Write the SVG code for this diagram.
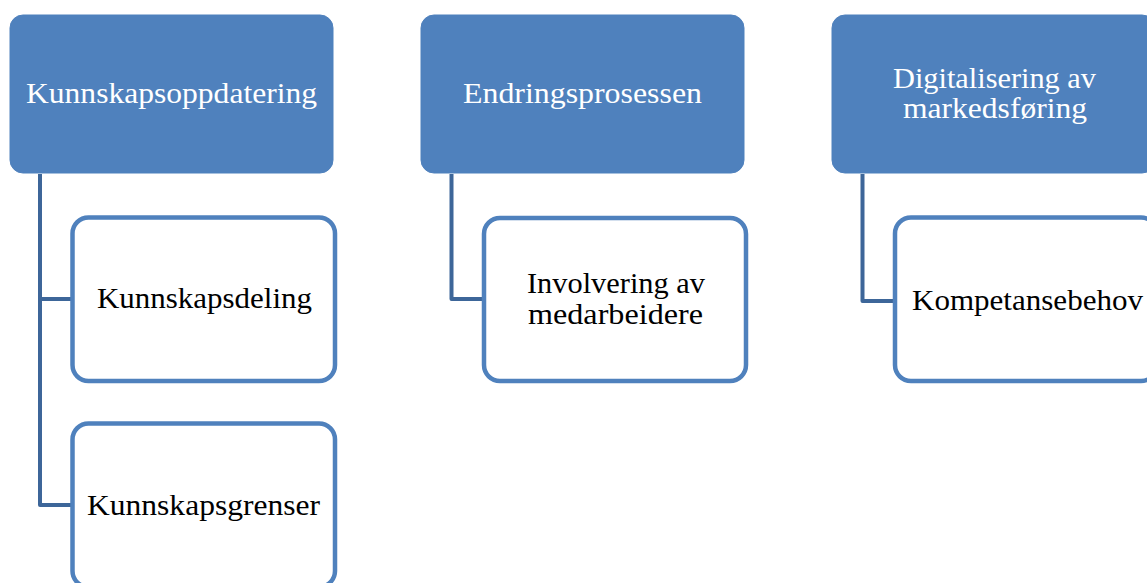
<svg xmlns="http://www.w3.org/2000/svg" width="1147" height="583" viewBox="0 0 1147 583">
<style>
.top{fill:#4F81BD;stroke:#4F81BD;stroke-width:1}
.child{fill:#FFFFFF;stroke:#4F81BD;stroke-width:4.5}
.conn{fill:none;stroke:#3D6699;stroke-width:4;stroke-linejoin:round}
.tw{font-family:"Liberation Serif","DejaVu Serif",serif;font-size:29.5px;fill:#FFFFFF;text-anchor:middle}
.tb{font-family:"Liberation Serif","DejaVu Serif",serif;font-size:29.5px;fill:#000000;text-anchor:middle}
</style>
<rect width="1147" height="583" fill="#FFFFFF"/>
<g id="connectors">
<path class="conn" d="M40,174 V505 H72"/>
<path class="conn" d="M40,299 H72"/>
<path class="conn" d="M451.5,174 V299 H484"/>
<path class="conn" d="M862.5,174 V301 H895"/>
</g>
<g id="n1">
<rect class="top" x="10" y="15" width="323" height="158" rx="13"/>
<text class="tw" x="171.5" y="103" textLength="291" lengthAdjust="spacingAndGlyphs">Kunnskapsoppdatering</text>
</g>
<g id="n2">
<rect class="top" x="421" y="15" width="323" height="158" rx="13"/>
<text class="tw" x="582.5" y="103" textLength="239" lengthAdjust="spacingAndGlyphs">Endringsprosessen</text>
</g>
<g id="n3">
<rect class="top" x="832" y="15" width="323" height="158" rx="13"/>
<text class="tw" x="994.5" y="88" textLength="203" lengthAdjust="spacingAndGlyphs">Digitalisering av</text>
<text class="tw" x="995" y="118" textLength="184" lengthAdjust="spacingAndGlyphs">markedsføring</text>
</g>
<g id="n4">
<rect class="child" x="72.5" y="217.5" width="262.5" height="163.5" rx="16"/>
<text class="tb" x="204.5" y="308" textLength="215" lengthAdjust="spacingAndGlyphs">Kunnskapsdeling</text>
</g>
<g id="n5">
<rect class="child" x="72.5" y="423.5" width="262.5" height="163.5" rx="16"/>
<text class="tb" x="203.5" y="515" textLength="233" lengthAdjust="spacingAndGlyphs">Kunnskapsgrenser</text>
</g>
<g id="n6">
<rect class="child" x="484" y="218" width="262" height="163" rx="16"/>
<text class="tb" x="616" y="293" textLength="178" lengthAdjust="spacingAndGlyphs">Involvering av</text>
<text class="tb" x="615.5" y="324" textLength="175" lengthAdjust="spacingAndGlyphs">medarbeidere</text>
</g>
<g id="n7">
<rect class="child" x="895" y="217.5" width="262" height="163.5" rx="16"/>
<text class="tb" x="1027.5" y="310" textLength="231" lengthAdjust="spacingAndGlyphs">Kompetansebehov</text>
</g>
</svg>
